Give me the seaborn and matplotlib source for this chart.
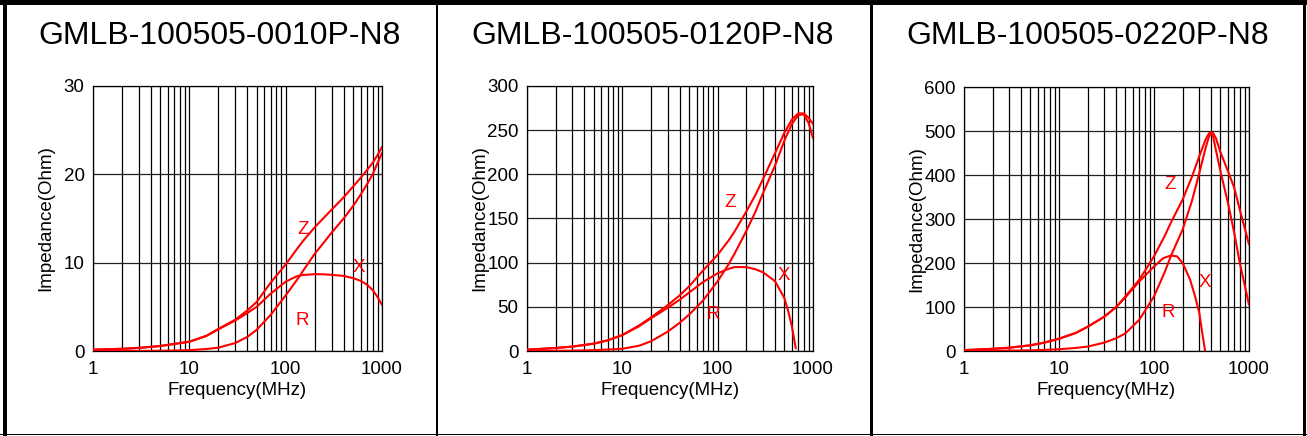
import numpy as np
import pandas as pd
import matplotlib
matplotlib.use("Agg")
import matplotlib.pyplot as plt
import matplotlib.ticker as mticker
from matplotlib.patches import Rectangle
import seaborn as sns

# ─────────────────────────────────────────────────────────────
#  Data (frequency in MHz, impedance in Ohm)
# ─────────────────────────────────────────────────────────────

titles = ["GMLB-100505-0010P-N8", "GMLB-100505-0120P-N8", "GMLB-100505-0220P-N8"]
y_max = [30, 300, 600]
y_major = [10, 50, 100]
y_minor = [2.5, 10, 20]

freq = [1, 2, 3, 5, 7, 10, 15, 20, 30, 40, 50, 70, 100, 130, 150, 200, 250,
        300, 400, 500, 600, 700, 800, 900, 1000]

# GMLB-100505-0010P-N8
z1 = [0.15, 0.25, 0.35, 0.57, 0.8, 1.05, 1.72, 2.5, 3.55, 4.6, 5.55, 7.75, 9.8,
      11.5, 12.4, 14.0, 15.1, 16.0, 17.4, 18.6, 19.6, 20.5, 21.3, 22.2, 23.1]
r1 = [0.0, 0.01, 0.01, 0.03, 0.05, 0.1, 0.22, 0.38, 0.9, 1.6, 2.4, 4.1, 6.3,
      8.0, 9.0, 11.0, 12.3, 13.4, 15.0, 16.4, 17.7, 18.9, 20.0, 21.3, 22.4]
fx1 = freq
x1 = [0.15, 0.25, 0.35, 0.57, 0.8, 1.05, 1.7, 2.45, 3.45, 4.3, 5.0, 6.5, 7.85,
      8.45, 8.6, 8.7, 8.68, 8.62, 8.5, 8.25, 7.95, 7.5, 6.9, 6.1, 5.2]

# GMLB-100505-0120P-N8
z2 = [1.5, 3.4, 5, 8.3, 12, 18, 29, 38, 52, 63, 73, 91, 109, 125, 135, 158,
      177, 195, 224, 247, 262, 269, 269, 264, 257]
r2 = [0.0, 0.2, 0.4, 1, 1.6, 2.5, 6, 11, 22, 32, 41, 57, 79, 98, 110, 136,
      158, 179, 210, 238, 257, 267, 268, 258, 241]
fx2 = [1, 2, 3, 5, 7, 10, 15, 20, 30, 40, 50, 70, 100, 130, 150, 200, 250,
       300, 400, 500, 550, 600, 660]
x2 = [1.5, 3.4, 5, 8.3, 12, 18, 28, 37, 49, 58, 66, 78, 88, 93, 95, 95, 92.5,
      89, 79, 60, 45, 28, 3]

# GMLB-100505-0220P-N8
f3 = [1, 2, 3, 5, 7, 10, 15, 20, 30, 40, 50, 70, 100, 130, 150, 200, 250,
      300, 350, 380, 400, 420, 450, 500, 600, 700, 800, 900, 1000]
z3 = [2, 5, 7.5, 13, 19, 28, 41, 55, 78, 100, 124, 162, 215, 262, 291, 344,
      395, 443, 481, 495, 497, 495, 483, 452, 409, 371, 321, 280, 242]
r3 = [0.0, 0.5, 1, 1.5, 2.5, 4, 7, 10, 19, 29, 40, 71, 124, 180, 215, 276,
      340, 405, 462, 488, 494, 487, 455, 409, 337, 268, 200, 150, 105]
fx3 = [1, 2, 3, 5, 7, 10, 15, 20, 30, 40, 50, 70, 100, 125, 150, 175, 200,
       240, 270, 300, 320, 345]
x3 = [2, 5, 7.5, 13, 19, 28, 41, 55, 78, 100, 122, 158, 192, 211, 217, 215,
      200, 162, 125, 86, 45, 0]

# curve label positions (freq, value)
label_pos = [
    {"Z": (150, 13.7), "R": (147, 3.5), "X": (575, 9.5)},
    {"Z": (135, 168), "R": (90, 41.5), "X": (500, 85)},
    {"Z": (147, 378), "R": (141, 87), "X": (344, 156)},
]

panels = [
    (freq, z1, r1, fx1, x1),
    (freq, z2, r2, fx2, x2),
    (f3, z3, r3, fx3, x3),
]

# ─────────────────────────────────────────────────────────────
#  Figure
# ─────────────────────────────────────────────────────────────

sns.set_style("white")
plt.rcParams["font.family"] = ["Liberation Sans", "DejaVu Sans"]

W, H = 1307, 436
fig = plt.figure(figsize=(W / 100, H / 100), dpi=100)
fig.patch.set_facecolor("white")

# axes boxes in pixels: left, right, top, bottom
boxes = [(93, 382, 86, 351), (527, 813, 86, 351), (964, 1249, 87, 351)]
title_x = [220, 653, 1088]


def px(l, r, t, b):
    return [l / W, 1 - b / H, (r - l) / W, (b - t) / H]


for i, (f, z, r, fx, xv) in enumerate(panels):
    ax = fig.add_axes(px(*boxes[i]))
    ax.set_facecolor("white")

    for fr, vals in [(f, z), (f, r), (fx, xv)]:
        df = pd.DataFrame({"freq": fr, "imp": vals})
        sns.lineplot(data=df, x="freq", y="imp", ax=ax, color="#ff0000",
                     lw=1.5, estimator=None, zorder=3)

    ax.set_xscale("log")
    ax.set_xlim(1, 1000)
    ax.set_ylim(0, y_max[i])

    ax.set_xticks([1, 10, 100, 1000])
    ax.set_xticklabels(["1", "10", "100", "1000"])
    ax.xaxis.set_minor_locator(mticker.LogLocator(base=10, subs=np.arange(2, 10)))
    ax.xaxis.set_minor_formatter(mticker.NullFormatter())
    ax.yaxis.set_major_locator(mticker.MultipleLocator(y_major[i]))
    ax.yaxis.set_minor_locator(mticker.MultipleLocator(y_minor[i]))

    ax.grid(which="both", axis="x", color="black", lw=0.9)
    ax.grid(which="major", axis="y", color="#222222", lw=0.9)
    ax.set_axisbelow(True)

    ax.tick_params(axis="x", which="both", length=0, labelsize=13.5, pad=7,
                   colors="black")
    ax.tick_params(axis="y", which="major", length=0, labelsize=13.5, pad=6,
                   colors="black")
    ax.tick_params(axis="y", which="minor", direction="in", length=5.5,
                   width=0.9, color="black")
    for s in ax.spines.values():
        s.set_color("black")
        s.set_linewidth(0.9)

    ax.set_xlabel("Frequency(MHz)", fontsize=13.5, color="black")
    ax.set_ylabel("Impedance(Ohm)", fontsize=13.5, color="black")
    w = boxes[i][1] - boxes[i][0]
    h = boxes[i][3] - boxes[i][2]
    ax.xaxis.set_label_coords(0.5, -31 / h)
    ax.yaxis.set_label_coords(-39 / w, 0.5)

    for name, (lx, ly) in label_pos[i].items():
        ax.text(lx, ly, name, color="#ff0000", fontsize=13.5,
                ha="center", va="center", zorder=4)

    fig.text(title_x[i] / W, 1 - 36 / H, titles[i], fontsize=23,
             ha="center", va="center", color="black")

# outer frame and panel dividers (pixel boxes: x, y_top, width, height)
frame = [
    (0, 0, W, 5),          # top
    (3, 0, 4, H),          # left
    (0, H - 2, W, 1.2),    # bottom
    (W - 4, 0, 3, H),      # right
    (435.5, 0, 2.5, H),    # divider 1
    (869.5, 0, 3, H),      # divider 2
]
for x0, y0, bw, bh in frame:
    fig.add_artist(Rectangle((x0 / W, 1 - (y0 + bh) / H), bw / W, bh / H,
                             transform=fig.transFigure, facecolor="black",
                             edgecolor="none", zorder=10))

fig.savefig("out.png", dpi=100, facecolor="white")
